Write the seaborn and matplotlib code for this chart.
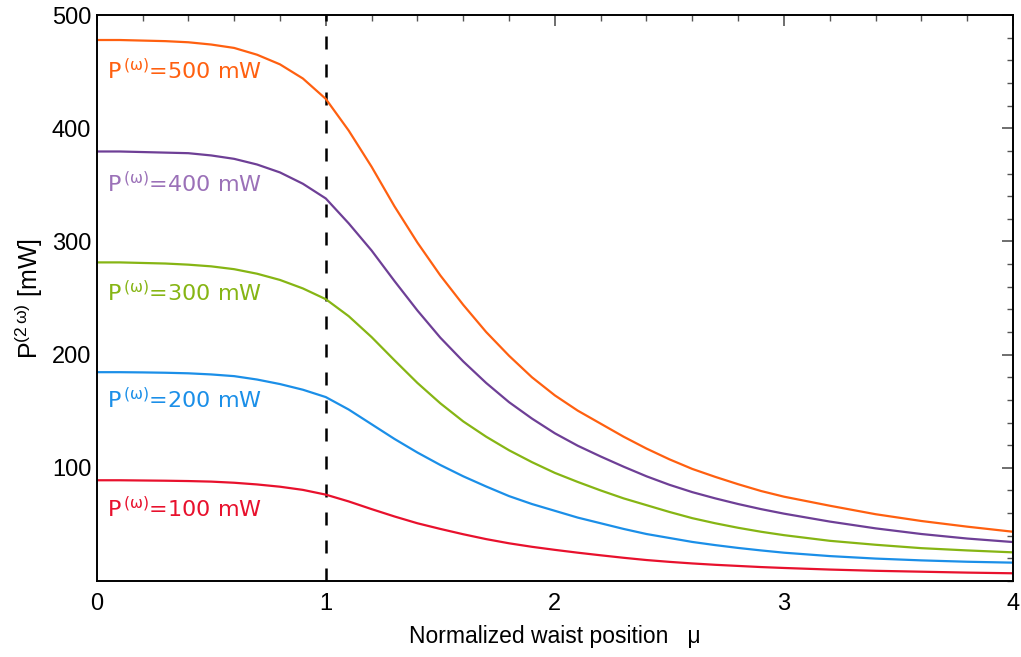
import matplotlib
matplotlib.use("Agg")
import matplotlib.pyplot as plt
import pandas as pd
import seaborn as sns
from matplotlib.ticker import MultipleLocator

# normalized waist position
mu = [0, 0.1, 0.2, 0.3, 0.4, 0.5, 0.6, 0.7, 0.8, 0.9,
      1.0, 1.1, 1.2, 1.3, 1.4, 1.5, 1.6, 1.7, 1.8, 1.9,
      2.0, 2.1, 2.2, 2.3, 2.4, 2.5, 2.6, 2.7, 2.8, 2.9,
      3.0, 3.2, 3.4, 3.6, 3.8, 4.0]

# second harmonic power [mW]
p100 = [89, 89, 88.8, 88.6, 88.3, 87.8, 86.8, 85.3, 83.3, 80.5,
        76.3, 70.3, 63.5, 57, 51, 46, 41.3, 37, 33.3, 30.2,
        27.5, 25, 22.7, 20.5, 18.5, 16.9, 15.5, 14.3, 13.3, 12.3,
        11.5, 10.1, 9.0, 8.2, 7.4, 6.8]
p200 = [184.5, 184.5, 184.3, 184, 183.5, 182.5, 181, 178, 174, 169,
        162.5, 151.5, 138.5, 125.5, 113.5, 102.5, 92.5, 83.5, 75, 68,
        62, 56, 51, 46, 41.5, 38, 34.5, 31.7, 29.2, 27,
        25, 22, 19.8, 18.2, 17, 16.2]
p300 = [281.5, 281.5, 281, 280.5, 279.5, 278, 275.5, 271.5, 266, 258.5,
        249, 234, 215.5, 195, 175, 157, 141, 127.5, 115.5, 105,
        95.5, 87.5, 80, 73, 67, 61, 55.5, 51, 47, 43.5,
        40.5, 35.5, 32, 29, 27, 25.3]
p400 = [379.5, 379.5, 379, 378.5, 378, 376, 373, 368, 361, 351,
        338, 316, 292, 265, 239, 215, 194, 175, 158, 143.5,
        130.5, 119.5, 110, 101, 92.5, 85, 78.5, 73, 68, 63.5,
        59.5, 52.5, 46.5, 41.5, 37.5, 34.4]
p500 = [478, 478, 477.5, 477, 476, 474, 471, 465, 456.5, 444,
        426, 398, 366, 331, 299, 270, 244, 220, 199, 180,
        164, 150.5, 139, 127.5, 117, 107.5, 99, 92, 85.5, 79.5,
        74.5, 66.5, 59, 53, 48, 43.5]

input_powers = [100, 200, 300, 400, 500]
line_colors = ["#E8112D", "#1B8FE8", "#86B514", "#6E3F96", "#FF6010"]
label_colors = ["#E8112D", "#1B8FE8", "#86B514", "#9B71B8", "#FF6010"]
label_y = [64, 160, 255, 351, 451]

df = pd.DataFrame({
    "mu": mu * 5,
    "P2w": p100 + p200 + p300 + p400 + p500,
    "Pin": sum([[p] * len(mu) for p in input_powers], []),
})

sns.set_style("white")
plt.rcParams["font.family"] = ["Liberation Sans", "DejaVu Sans"]
plt.rcParams["text.color"] = "black"
plt.rcParams["axes.labelcolor"] = "black"

fig = plt.figure(figsize=(10.21, 6.57), dpi=100)
ax = fig.add_axes([0.0947, 0.1157, 0.8975, 0.8613])

sns.lineplot(data=df, x="mu", y="P2w", hue="Pin", palette=line_colors,
             linewidth=1.6, legend=False, sort=False, ax=ax)

ax.axvline(1, color="black", linewidth=1.8, linestyle=(0, (5.2, 6)), zorder=1)

for p, c, y in zip(input_powers, label_colors, label_y):
    ax.text(0.045, y, r"P$^{\,\mathrm{(ω)}}$=" + f"{p} mW", color=c,
            fontsize=16, va="center", ha="left", family="DejaVu Sans")

ax.set_xlim(0, 4)
ax.set_ylim(0, 500)
ax.xaxis.set_major_locator(MultipleLocator(1))
ax.xaxis.set_minor_locator(MultipleLocator(0.2))
ax.set_yticks([100, 200, 300, 400, 500])
ax.yaxis.set_minor_locator(MultipleLocator(20))
ax.tick_params(which="both", direction="in", top=True, right=True,
               color="#555555", labelcolor="black", labelsize=17)
ax.tick_params(which="major", length=8, width=1.2)
ax.tick_params(which="minor", length=4, width=1.0)
ax.tick_params(axis="x", which="major", pad=9)
ax.tick_params(axis="y", which="major", pad=4)

for s in ax.spines.values():
    s.set_color("black")
    s.set_linewidth(1.4)

ax.set_xlabel("Normalized waist position   μ", fontsize=16.5, labelpad=7)
ax.set_ylabel(r"P$^{\mathregular{(2\,ω)}}$ [mW]", fontsize=18, labelpad=5)

fig.savefig("out.png", dpi=100)
